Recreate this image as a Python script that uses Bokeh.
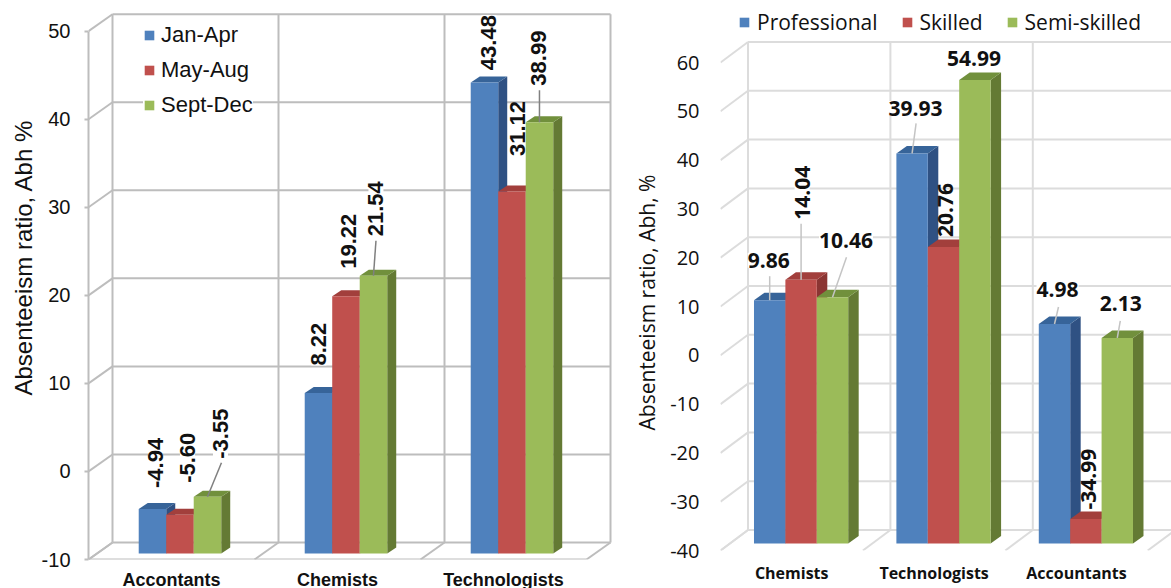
import math
from bokeh.core.properties import value
from bokeh.embed import file_html
from bokeh.layouts import row
from bokeh.models import FixedTicker, Legend, LegendItem, LinearAxis, Range1d, Title
from bokeh.plotting import figure
from bokeh.resources import INLINE

# ---------- data ----------
LEFT_CATEGORIES = ["Accontants", "Chemists", "Technologists"]
JAN_APR = [-4.94, 8.22, 43.48]
MAY_AUG = [-5.60, 19.22, 31.12]
SEPT_DEC = [-3.55, 21.54, 38.99]
LEFT_TICKS = [-10, 0, 10, 20, 30, 40, 50]

RIGHT_CATEGORIES = ["Chemists", "Technologists", "Accountants"]
PROFESSIONAL = [9.86, 39.93, 4.98]
SKILLED = [14.04, 20.76, -34.99]
SEMI_SKILLED = [10.46, 54.99, 2.13]
RIGHT_TICKS = [-40, -30, -20, -10, 0, 10, 20, 30, 40, 50, 60]

# ---------- styles ----------
FRONT = ["#4f81bd", "#c0504d", "#9bbb59"]
TOP = ["#376499", "#a23f3c", "#71903c"]
SIDE = ["#2f5183", "#8b3533", "#647a34"]

# Label placement: pixel offsets from each bar's top centre (series -> category)
LEFT_LABEL_OFFSETS = [
    [(3, -46), (0.5, -49), (4.5, -40)],
    [(7.5, -57), (3, -55), (6, -63)],
    [(13, -63), (2.5, -67), (-0.5, -64)],
]
LEFT_LABEL_ROTATED = [[True] * 3, [True] * 3, [True] * 3]
LEFT_LABEL_MASK = [[True, True, True], [True, True, False], [True, True, True]]
LEFT_LEADERS = {(2, 0): (14, -34), (2, 1): (2.5, -35), (2, 2): (0, -32)}

RIGHT_LABEL_OFFSETS = [
    [(-1, -40), (3.5, -45), (3, -34)],
    [(1, -87), (2.5, -37), (2.5, -40)],
    [(13.5, -57), (-1, -21.5), (3.5, -34)],
]
RIGHT_LABEL_ROTATED = [[False] * 3, [True] * 3, [False] * 3]
RIGHT_LABEL_MASK = [[True] * 3, [True, False, False], [True] * 3]
RIGHT_LEADERS = {(0, 0): (0, -24), (0, 1): (4, -30), (0, 2): (4, -17),
                 (1, 0): (0, -56), (2, 0): (14, -40), (2, 2): (3, -17)}


def build(cfg):
    ticks = cfg["ticks"]
    ymin, ymax_tick = ticks[0], ticks[-1]
    sx, sy = cfg["cat_px"], cfg["unit_px"]
    frame_w, frame_h = cfg["frame_w"], cfg["frame_h"]
    y_end = ymin + frame_h / sy
    x_end = frame_w / sx
    p = figure(width=cfg["width"], height=588, frame_width=frame_w, frame_height=frame_h,
               output_backend="svg", toolbar_location=None,
               x_range=Range1d(0, x_end), y_range=Range1d(ymin, y_end),
               min_border_left=cfg["border_left"], min_border_right=0,
               min_border_top=0, min_border_bottom=0,
               x_axis_type=None, y_axis_type=None)
    p.outline_line_color = None
    p.background_fill_color = "white"
    p.xgrid.visible = False
    p.ygrid.visible = False

    ncat = len(cfg["categories"])
    back_x = cfg["depth_px"][0] / sx
    back_y = cfg["depth_px"][1] / sy
    grid = dict(line_color=cfg["grid_color"], line_width=cfg["grid_width"])

    # back wall and depth connectors
    p.segment(x0=[back_x] * len(ticks), y0=[t + back_y for t in ticks],
              x1=[ncat + back_x] * len(ticks), y1=[t + back_y for t in ticks], **grid)
    p.segment(x0=[0] * len(ticks), y0=ticks, x1=[back_x] * len(ticks),
              y1=[t + back_y for t in ticks], **grid)
    cats = list(range(ncat + 1))
    p.segment(x0=[c + back_x for c in cats], y0=[ymin + back_y] * len(cats),
              x1=[c + back_x for c in cats], y1=[ymax_tick + back_y] * len(cats), **grid)
    p.segment(x0=cats, y0=[ymin] * len(cats), x1=[c + back_x for c in cats],
              y1=[ymin + back_y] * len(cats), **grid)
    if cfg["front_floor"]:
        p.segment(x0=[0], y0=[ymin], x1=[ncat], y1=[ymin], **grid)

    # bars
    plane_y = cfg["plane_dy"] / sy
    plane_x = cfg["plane_dy"] / cfg["depth_px"][1] * back_x
    bar_w = cfg["bar_px"] / sx
    side_x = cfg["side_px"][0] / sx
    side_y = cfg["side_px"][1] / sy
    renderers = []
    centers_all = []
    for i, vals in enumerate(cfg["series"]):
        centers = [c + 0.5 + plane_x + (i - 1) * bar_w for c in range(ncat)]
        centers_all.append(centers)
        tops = [v + plane_y for v in vals]
        base = ymin + plane_y
        p.patches(
            xs=[[c + bar_w / 2, c + bar_w / 2 + side_x, c + bar_w / 2 + side_x, c + bar_w / 2]
                for c in centers],
            ys=[[base, base + side_y, t + side_y, t] for t in tops],
            fill_color=SIDE[i], line_color=None)
        p.patches(
            xs=[[c - bar_w / 2, c + bar_w / 2, c + bar_w / 2 + side_x, c - bar_w / 2 + side_x]
                for c in centers],
            ys=[[t, t, t + side_y, t + side_y] for t in tops],
            fill_color=TOP[i], line_color=None)
        r = p.vbar(x=centers, width=bar_w, top=tops, bottom=[base] * ncat,
                   fill_color=FRONT[i], line_color=None)
        renderers.append(r)

    # leader lines
    for (i, c), (dx, dy) in cfg["leaders"].items():
        x0 = centers_all[i][c]
        y0 = cfg["series"][i][c] + plane_y
        p.segment(x0=[x0], y0=[y0], x1=[x0 + dx / sx], y1=[y0 - dy / sy],
                  line_color=cfg["leader_color"], line_width=1.5)

    # data labels
    for i, vals in enumerate(cfg["series"]):
        for c, v in enumerate(vals):
            dx, dy = cfg["offsets"][i][c]
            rot = cfg["rotated"][i][c]
            kw = {}
            if cfg["mask"][i][c]:
                kw = dict(background_fill_color="white")
            p.text(x=[centers_all[i][c]], y=[v + plane_y], text=[f"{v:.2f}"],
                   x_offset=[dx], y_offset=[dy],
                   angle=math.pi / 2 if rot else 0,
                   text_align="center", text_baseline="middle",
                   text_font=value(cfg["font"]), text_font_size=cfg["label_size"],
                   text_font_style=cfg["label_style"], text_color="#111111", **kw)

    # y axis (ticks and labels)
    yax = LinearAxis(ticker=FixedTicker(ticks=ticks), bounds=(ymin, ymax_tick),
                     major_label_overrides={t: str(t) for t in ticks},
                     minor_tick_line_color=None,
                     major_tick_in=0, major_tick_out=cfg["tick_out"],
                     major_tick_line_color=cfg["grid_color"] if cfg["tick_out"] else None,
                     major_tick_line_width=cfg["grid_width"],
                     axis_line_color=cfg["grid_color"] if cfg["front_axis"] else None,
                     axis_line_width=cfg["grid_width"],
                     major_label_standoff=cfg["tick_standoff"],
                     major_label_text_font=cfg["font"],
                     major_label_text_font_size=cfg["tick_size"],
                     major_label_text_font_style=cfg["tick_style"],
                     major_label_text_color="#111111")
    p.add_layout(yax, "left")

    # y axis title: off-centre relative to the frame, so a left-side title with an offset
    p.add_layout(Title(text=cfg["ylabel"], align="left", offset=cfg["title_offset"],
                       standoff=cfg["title_standoff"], text_font=cfg["font"],
                       text_font_size=cfg["title_size"], text_font_style="normal",
                       text_color="#111111"), "left")

    # category axis
    centers = [k + 0.5 for k in range(ncat)]
    xax = LinearAxis(ticker=FixedTicker(ticks=centers),
                     major_label_overrides=dict(zip(centers, cfg["categories"])),
                     axis_line_color=None, major_tick_line_color=None,
                     major_tick_in=0, major_tick_out=0,
                     minor_tick_line_color=None, major_label_standoff=cfg["cat_standoff"],
                     major_label_text_font=cfg["font"],
                     major_label_text_font_size=cfg["cat_size"],
                     major_label_text_font_style="bold",
                     major_label_text_color="#111111")
    p.add_layout(xax, "below")

    items = [LegendItem(label=n, renderers=[r]) for n, r in zip(cfg["names"], renderers)]
    lg = Legend(items=items, location=cfg["legend_loc"], orientation=cfg["legend_orient"],
                background_fill_color="white", background_fill_alpha=1.0,
                border_line_color=None, padding=0, margin=0,
                glyph_width=12, glyph_height=12, label_standoff=cfg["legend_standoff"],
                spacing=cfg["legend_spacing"], label_text_font=cfg["font"],
                label_text_font_size=cfg["legend_size"], label_text_color="#111111",
                label_text_font_style=cfg["legend_style"])
    p.add_layout(lg, "center")
    return p


left = build(dict(
    width=620, border_left=88, frame_w=532, frame_h=559,
    categories=LEFT_CATEGORIES, series=[JAN_APR, MAY_AUG, SEPT_DEC], ticks=LEFT_TICKS,
    names=["Jan-Apr", "May-Aug", "Sept-Dec"],
    cat_px=166, unit_px=8.805, depth_px=(24, 17), plane_dy=6, bar_px=27.5, side_px=(9, 6),
    grid_color="#bdbdbd", grid_width=2, front_floor=True, front_axis=True,
    leaders=LEFT_LEADERS, leader_color="#808080",
    offsets=LEFT_LABEL_OFFSETS, rotated=LEFT_LABEL_ROTATED, mask=LEFT_LABEL_MASK,
    font="Liberation Sans", label_size="22px", label_style="bold",
    tick_out=4, tick_standoff=14, tick_size="20px", tick_style="normal",
    ylabel="Absenteeism ratio,  Abh %", title_offset=164, title_standoff=3,
    title_size="24px",
    cat_size="18px", cat_standoff=10,
    legend_loc=(55, 441), legend_orient="vertical", legend_standoff=6, legend_spacing=9,
    legend_size="22px", legend_style="normal",
))

right = build(dict(
    width=551, border_left=100, frame_w=451, frame_h=550,
    categories=RIGHT_CATEGORIES, series=[PROFESSIONAL, SKILLED, SEMI_SKILLED], ticks=RIGHT_TICKS,
    names=["Professional", "Skilled", "Semi-skilled"],
    cat_px=142.4, unit_px=4.88, depth_px=(27.5, 20.5), plane_dy=7, bar_px=31.4, side_px=(10.5, 7.5),
    grid_color="#dcdcdc", grid_width=2, front_floor=False, front_axis=False,
    leaders=RIGHT_LEADERS, leader_color="#c4c4c4",
    offsets=RIGHT_LABEL_OFFSETS, rotated=RIGHT_LABEL_ROTATED, mask=RIGHT_LABEL_MASK,
    font="Open Sans", label_size="21px", label_style="bold",
    tick_out=0, tick_standoff=21, tick_size="20px", tick_style="normal",
    ylabel="Absenteeism ratio, Abh, %", title_offset=120, title_standoff=13,
    title_size="21px",
    cat_size="16px", cat_standoff=11,
    legend_loc=(18, 514), legend_orient="horizontal", legend_standoff=7, legend_spacing=23,
    legend_size="21px", legend_style="normal",
))

open("out.html", "w").write(file_html(row(left, right), INLINE))
